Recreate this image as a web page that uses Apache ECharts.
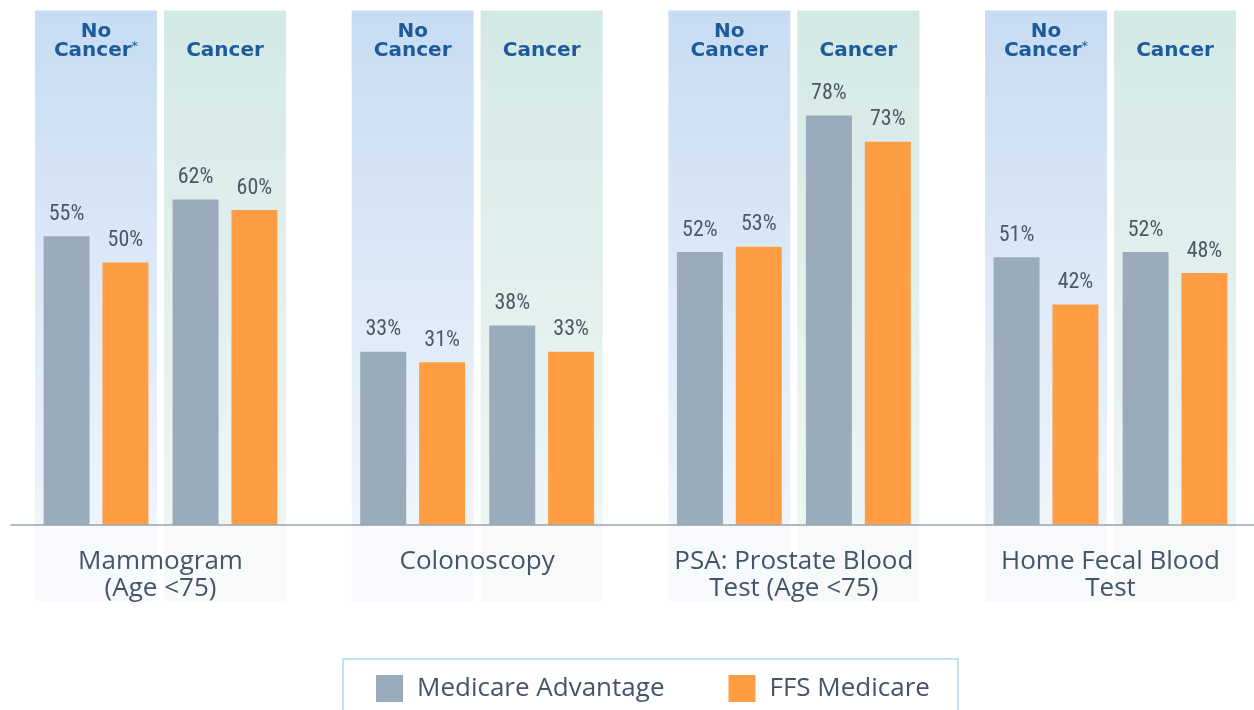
<!DOCTYPE html>
<html><head><meta charset="utf-8">
<script src="https://cdn.jsdelivr.net/npm/echarts@6/dist/echarts.min.js"></script>
<style>html,body{margin:0;padding:0;background:#fff}#c{width:1254px;height:710px}</style>
</head><body><div id="c"></div>
<script>
// ---- data ----
const groups = ['Mammogram\n(Age <75)', 'Colonoscopy', 'PSA: Prostate Blood\nTest (Age <75)', 'Home Fecal Blood\nTest'];
const subgroups = ['No Cancer', 'Cancer'];
const headerLabels = [
  ['No Cancer*', 'Cancer'],
  ['No Cancer', 'Cancer'],
  ['No Cancer', 'Cancer'],
  ['No Cancer*', 'Cancer']
];
const seriesNames = ['Medicare Advantage', 'FFS Medicare'];
const medicareAdvantage = [[55, 62], [33, 38], [52, 78], [51, 52]];
const ffsMedicare = [[50, 60], [31, 33], [53, 73], [42, 48]];

// ---- styling / layout ----
const PANEL_TOP = 98, PANEL_BOTTOM = -14.5;
const colors = ['#9aacbc', '#fe9d44'];
const grad = (a, b) => new echarts.graphic.LinearGradient(0, 0, 0, 1, [{offset: 0, color: a}, {offset: 1, color: b}]);
const upperPanel = [grad('#c7dcf2', '#f0f5fc'), grad('#d3e9e5', '#eef6f5')];
const lowerPanel = ['#f7f9fd', '#f8fafa'];

const pitch = 316.67, gLeft0 = 31.5, gWidth = 258;
const grid = [], xAxis = [], yAxis = [], series = [];

function headerFmt(v) {
  const star = v.endsWith('*');
  const base = star ? v.slice(0, -1) : v;
  const words = base.split(' ');
  return words.map((w, k) => '{h|' + w + '}' + (star && k === words.length - 1 ? '{s|*}' : '')).join('\n');
}

groups.forEach((g, i) => {
  grid.push({left: gLeft0 + pitch * i, width: gWidth, top: 0, bottom: 80});
  xAxis.push({
    type: 'category', gridIndex: i, data: subgroups, position: 'bottom', z: 6,
    axisLine: {show: false, onZero: false},
    axisTick: {show: false}, axisLabel: {show: false},
    name: g, nameLocation: 'middle', nameGap: -82,
    nameTextStyle: {fontFamily: 'Open Sans', fontSize: 26, color: '#44546a', lineHeight: 27, verticalAlign: 'top'}
  });
  xAxis.push({
    type: 'category', gridIndex: i, data: headerLabels[i], position: 'top', z: 6,
    axisLine: {show: false, onZero: false}, axisTick: {show: false},
    axisLabel: {
      inside: true, margin: 60, interval: 0, verticalAlign: 'bottom', formatter: headerFmt,
      rich: {
        h: {fontFamily: 'DejaVu Sans', fontWeight: 'bold', fontSize: 20, color: '#1e5b9b', lineHeight: 19},
        s: {fontFamily: 'DejaVu Sans', fontSize: 13, color: '#1e5b9b', lineHeight: 19, padding: [0, 0, 7, 0]}
      }
    }
  });
  yAxis.push({type: 'value', gridIndex: i, min: -20, max: 100, show: false});
  series.push({
    type: 'bar', xAxisIndex: 2 * i + 1, yAxisIndex: i, barWidth: 122, barGap: '-100%', silent: true,
    data: subgroups.map((s, j) => ({value: PANEL_TOP, itemStyle: {color: upperPanel[j]}}))
  });
  series.push({
    type: 'bar', xAxisIndex: 2 * i + 1, yAxisIndex: i, barWidth: 122, barGap: '-100%', silent: true,
    data: subgroups.map((s, j) => ({value: PANEL_BOTTOM, itemStyle: {color: lowerPanel[j]}}))
  });
  [medicareAdvantage, ffsMedicare].forEach((arr, k) => {
    series.push({
      type: 'bar', name: seriesNames[k], xAxisIndex: 2 * i, yAxisIndex: i,
      barWidth: 46, barGap: '28%', data: arr[i],
      itemStyle: {color: colors[k]},
      label: {
        show: true, position: 'top', distance: 11, formatter: '{c}%',
        fontFamily: 'Liberation Sans Narrow, Roboto Condensed, Roboto', fontSize: 22, color: '#4b5866'
      }
    });
  });
});

// full-width baseline
grid.push({left: 11, right: 0, top: 0, bottom: 80});
xAxis.push({
  type: 'value', gridIndex: 4, z: 5,
  axisLine: {show: true, onZero: true, lineStyle: {color: '#99a4ad', width: 1.5}},
  axisTick: {show: false}, axisLabel: {show: false}, splitLine: {show: false}
});
yAxis.push({type: 'value', gridIndex: 4, min: -20, max: 100, show: false});

const chart = echarts.init(document.getElementById('c'), null, {renderer: 'canvas'});
chart.setOption({
  animation: false,
  backgroundColor: '#ffffff',
  grid, xAxis, yAxis, series,
  legend: {
    data: seriesNames, left: 343, top: 659,
    padding: [16, 28, 40, 33], itemWidth: 27, itemHeight: 27, itemGap: 64, icon: 'rect',
    borderColor: '#a9dbef', borderWidth: 1.5,
    textStyle: {fontFamily: 'Open Sans', fontSize: 26, color: '#44546a', padding: [0, 0, 0, 9]}
  }
});
</script>
</body></html>
